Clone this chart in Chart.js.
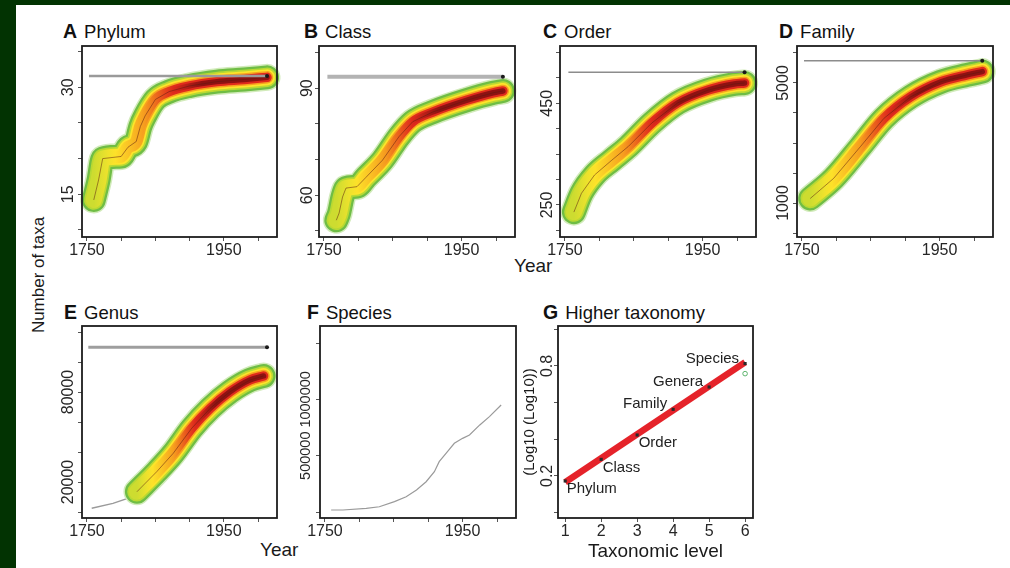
<!DOCTYPE html>
<html><head><meta charset="utf-8">
<script src="https://cdn.jsdelivr.net/npm/chart.js@4.4.1/dist/chart.umd.min.js"></script>
<style>
html,body{margin:0;padding:0;}
body{width:1010px;height:568px;background:#023302;position:relative;overflow:hidden;font-family:"Liberation Sans",Arial,sans-serif;}
#sheet{position:absolute;left:16px;top:5px;right:0;bottom:0;background:#fff;}
.pt{position:absolute;font-size:18.5px;line-height:20px;color:#111;white-space:nowrap;}
.pt b{font-size:19.5px;margin-right:7px;}
.lab{position:absolute;color:#1a1a1a;white-space:nowrap;line-height:20px;}
canvas{position:absolute;}
</style></head><body>
<div id="sheet"></div>
<div class="pt" style="left:63px;top:21px"><b>A</b>Phylum</div>
<div class="pt" style="left:304px;top:21px"><b>B</b>Class</div>
<div class="pt" style="left:543px;top:21px"><b>C</b>Order</div>
<div class="pt" style="left:779px;top:21px"><b>D</b>Family</div>
<div class="pt" style="left:64px;top:302px"><b>E</b>Genus</div>
<div class="pt" style="left:307px;top:302px"><b>F</b>Species</div>
<div class="pt" style="left:543px;top:302px"><b>G</b>Higher taxonomy</div>
<div class="lab" style="left:38.5px;top:275px;font-size:17px;transform:translate(-50%,-50%) rotate(-90deg);">Number of taxa</div>
<div class="lab" style="left:514px;top:256px;font-size:19px;">Year</div>
<div class="lab" style="left:260px;top:540px;font-size:19px;">Year</div>
<script>
// ---------------- data ----------------
const yearTicks = [1750, 1800, 1850, 1900, 1950, 2000];
const yearLabels = [1750, 1950];
const yearRange = [1742.8, 2027.6];

const phylumYears  = [1760, 1767, 1773, 1800, 1810, 1822, 1828, 1835, 1850, 1870, 1900, 1940, 1980, 2013];
const phylumCounts = [14.2, 17, 20, 20.3, 21.6, 22.4, 24.5, 26, 28.3, 29.4, 30.2, 30.8, 31.1, 31.4];
const phylumAsymptote = 31.6;
const phylumAsymptoteSpan = [1753, 2013];
const phylumTicks = [10, 15, 20, 25, 30, 35];
const phylumLabels = [15, 30];
const phylumRange = [9.0, 35.8];

const classYears  = [1768, 1772, 1777, 1782, 1798, 1811, 1835, 1859, 1879, 1908, 1957, 1996, 2010];
const classCounts = [53, 55, 59.5, 62, 62.4, 65, 69.8, 76.4, 80.6, 83.3, 86.6, 88.7, 89.2];
const classAsymptote = 93.2;
const classAsymptoteSpan = [1755, 2010];
const classTicks = [50, 60, 70, 80, 90, 100];
const classLabels = [60, 90];
const classRange = [48.3, 101.8];

const orderYears  = [1763, 1774, 1793, 1818, 1842, 1876, 1914, 1958, 1996, 2011];
const orderCounts = [236, 273, 309, 338, 365, 411, 451, 476, 488, 490];
const orderAsymptote = 511;
const orderAsymptoteSpan = [1755, 2011];
const orderTicks = [200, 250, 300, 350, 400, 450, 500, 550];
const orderLabels = [250, 450];
const orderRange = [187, 562.7];

const familyYears  = [1762, 1796, 1835, 1869, 1908, 1952, 1990, 2012];
const familyCounts = [1150, 1820, 2880, 3820, 4540, 5040, 5270, 5380];
const familyAsymptote = 5740;
const familyAsymptoteSpan = [1753, 2012];
const familyTicks = [0, 1000, 2000, 3000, 4000, 5000, 6000];
const familyLabels = [1000, 5000];
const familyRange = [-133, 6233];

const genusYears  = [1757, 1788, 1817, 1823, 1852, 1876, 1903, 1930, 1959, 1988, 2008];
const genusCounts = [2500, 5800, 10200, 13500, 26900, 39100, 55800, 69100, 80200, 88000, 90700];
const genusBandFrom = 1820;
const genusAsymptote = 109800;
const genusAsymptoteSpan = [1752, 2013];
const genusTicks = [0, 20000, 40000, 60000, 80000, 100000, 120000];
const genusLabels = [20000, 80000];
const genusRange = [-4000, 124000];

const speciesYears  = [1759, 1776, 1810, 1829, 1851, 1868, 1883, 1897, 1909, 1916, 1928, 1938, 1950, 1960, 1975, 1989, 2006];
const speciesCounts = [18000, 18000, 33000, 47000, 92000, 136000, 195000, 269000, 358000, 447000, 536000, 610000, 654000, 684000, 773000, 847000, 950000];
const speciesTicks = [0, 500000, 1000000, 1500000];
const speciesLabels = [500000, 1000000];
const speciesRange = [-53000, 1651000];

const taxLevels = [1, 2, 3, 4, 5, 6];
const taxNames  = ['Phylum', 'Class', 'Order', 'Family', 'Genera', 'Species'];
const taxValues = [0.172, 0.29, 0.423, 0.563, 0.685, 0.813];
const fitLevels = [1, 6];
const fitValues = [0.165, 0.82];
const speciesAltValue = 0.758;
const levelTicks = [1, 2, 3, 4, 5, 6];
const levelRange = [0.8, 6.22];
const logTicks = [0, 0.2, 0.4, 0.6, 0.8, 1.0];
const logLabels = [0.2, 0.8];
const logRange = [-0.03, 1.018];

// ---------------- styling helpers ----------------
const FONT = '"Liberation Sans", Arial, sans-serif';
Chart.defaults.font.family = FONT;
const TICK_SIZE = 16;
const TL = 4;

const heatPalette = ['#d2ebbb', '#6fbd45', '#b9d932', '#fde42a', '#f7a21f', '#e02a1c', '#8e1212'];
const heatWidths  = [27, 24, 19.5, 16, 12.5, 9.5, 5.5];
function heatLevel(t) { return Math.min(6, 2.3 + 6 * t); }

function hexRgb(h) { return [1, 3, 5].map(i => parseInt(h.substr(i, 2), 16)); }
function mix(a, b, f) {
  const A = hexRgb(a), B = hexRgb(b);
  return 'rgb(' + A.map((v, i) => Math.round(v + (B[i] - v) * f)).join(',') + ')';
}

function pts(xs, ys) { return xs.map((x, i) => ({x: x, y: ys[i]})); }

function heatGrad(k) {
  if (k <= 2) return heatPalette[k];
  return c => {
    const ch = c.chart;
    const xs = ch.scales && ch.scales.x;
    if (!ch.chartArea || !xs) return heatPalette[k];
    const d = c.dataset.data;
    const x0 = xs.getPixelForValue(d[0].x), x1 = xs.getPixelForValue(d[d.length - 1].x);
    const g = ch.ctx.createLinearGradient(x0, 0, x1, 0);
    for (let i = 0; i <= 24; i++) {
      const t = i / 24;
      const m = Math.min(k, heatLevel(t));
      const lo = Math.floor(m), hi = Math.min(6, lo + 1);
      g.addColorStop(t, mix(heatPalette[lo], heatPalette[hi], m - lo));
    }
    return g;
  };
}

function heatBand(xs, ys) {
  const out = heatWidths.map((w, k) => ({
    data: pts(xs, ys), borderWidth: w, borderColor: heatGrad(k),
    cubicInterpolationMode: 'monotone', pointRadius: 0, borderCapStyle: 'round',
    borderJoinStyle: 'round', order: 40 - k, clip: false
  }));
  out.push({data: pts(xs, ys), borderWidth: 1, borderColor: 'rgba(90,25,15,0.5)', pointRadius: 0, tension: 0, order: 3, clip: false});
  return out;
}

function asymptote(value, span, width, color) {
  return {
    data: pts(span, [value, value]), borderWidth: width, borderColor: color,
    pointRadius: c => c.dataIndex === 1 ? 2 : 0, pointBackgroundColor: '#1a1a1a',
    pointBorderWidth: 0, order: 1, clip: false
  };
}

function widest(labels, fmt, size) {
  const c = document.createElement('canvas').getContext('2d');
  c.font = size + 'px ' + FONT;
  return Math.max.apply(null, labels.map(l => c.measureText(fmt(l)).width));
}

const framePlugin = {
  id: 'frame',
  afterDatasetsDraw(chart) {
    const {ctx, chartArea: a} = chart;
    ctx.save();
    ctx.strokeStyle = '#1c1c1c';
    ctx.lineWidth = 1.8;
    ctx.strokeRect(a.left, a.top, a.width, a.height);
    ctx.restore();
  }
};

function xAxis(range, ticks, labels, fmt, hx, title) {
  return {
    type: 'linear', position: 'bottom', min: range[0], max: range[1],
    afterBuildTicks: s => { s.ticks = ticks.map(v => ({value: v})); },
    afterFit: s => { s.height = hx; },
    ticks: {autoSkip: false, maxRotation: 0, minRotation: 0, padding: 0, color: '#262626',
            font: {size: TICK_SIZE}, callback: v => labels.includes(v) ? fmt(v) : ''},
    grid: {drawOnChartArea: false, drawTicks: true, tickLength: TL, color: '#555', lineWidth: 1},
    border: {display: false},
    title: title || {display: false}
  };
}

function yAxis(range, ticks, labels, fmt, wy, d, title, size) {
  size = size || TICK_SIZE;
  const w = widest(labels, fmt, size);
  return {
    type: 'linear', position: 'left', min: range[0], max: range[1],
    afterBuildTicks: s => { s.ticks = ticks.map(v => ({value: v})); },
    afterFit: s => { s.width = wy; },
    ticks: {autoSkip: false, minRotation: 90, maxRotation: 90, crossAlign: 'center',
            padding: d - TL - w / 2, color: '#262626', font: {size: size},
            callback: v => labels.includes(v) ? fmt(v) : ''},
    grid: {drawOnChartArea: false, drawTicks: true, tickLength: TL, color: '#555', lineWidth: 1},
    border: {display: false},
    title: title || {display: false}
  };
}

function makeChart(box, scales, datasets, extraPlugins, wy, hx) {
  const padTop = 12, padRight = 12;
  const W = wy + box.w + padRight, H = padTop + box.h + hx;
  const cv = document.createElement('canvas');
  cv.width = W; cv.height = H;
  cv.style.left = (box.x - wy) + 'px';
  cv.style.top = (box.y - padTop) + 'px';
  cv.style.width = W + 'px';
  cv.style.height = H + 'px';
  document.body.appendChild(cv);
  return new Chart(cv, {
    type: 'line',
    data: {datasets: datasets},
    options: {
      responsive: false, animation: false, devicePixelRatio: 1,
      layout: {padding: {top: padTop, right: padRight, left: 0, bottom: 0}},
      plugins: {legend: {display: false}, tooltip: {enabled: false}},
      scales: scales
    },
    plugins: [framePlugin].concat(extraPlugins || [])
  });
}

const str = v => String(v);
const HX = 30, WY = 40;

// A Phylum
makeChart({x: 82, y: 46, w: 195, h: 191}, {
  x: xAxis(yearRange, yearTicks, yearLabels, str, HX),
  y: yAxis(phylumRange, phylumTicks, phylumLabels, str, WY, 13)
}, heatBand(phylumYears, phylumCounts).concat([asymptote(phylumAsymptote, phylumAsymptoteSpan, 2.5, '#9a9a9a')]), [], WY, HX);

// B Class
makeChart({x: 319, y: 46, w: 196, h: 191}, {
  x: xAxis(yearRange, yearTicks, yearLabels, str, HX),
  y: yAxis(classRange, classTicks, classLabels, str, WY, 11.5)
}, heatBand(classYears, classCounts).concat([asymptote(classAsymptote, classAsymptoteSpan, 4, '#b3b3b3')]), [], WY, HX);

// C Order
makeChart({x: 560, y: 46, w: 196, h: 191}, {
  x: xAxis(yearRange, yearTicks, yearLabels, str, HX),
  y: yAxis(orderRange, orderTicks, orderLabels, str, WY, 12.5)
}, heatBand(orderYears, orderCounts).concat([asymptote(orderAsymptote, orderAsymptoteSpan, 1.6, '#8c8c8c')]), [], WY, HX);

// D Family
makeChart({x: 797, y: 46, w: 196, h: 191}, {
  x: xAxis(yearRange, yearTicks, yearLabels, str, HX),
  y: yAxis(familyRange, familyTicks, familyLabels, str, WY, 13)
}, heatBand(familyYears, familyCounts).concat([asymptote(familyAsymptote, familyAsymptoteSpan, 1.6, '#8c8c8c')]), [], WY, HX);

// E Genus
const genusBandIdx = genusYears.map((y, i) => i).filter(i => genusYears[i] >= genusBandFrom);
makeChart({x: 82, y: 326, w: 195, h: 192}, {
  x: xAxis(yearRange, yearTicks, yearLabels, str, HX),
  y: yAxis(genusRange, genusTicks, genusLabels, str, WY, 13)
}, heatBand(genusBandIdx.map(i => genusYears[i]), genusBandIdx.map(i => genusCounts[i]))
  .concat([
    {data: pts(genusYears, genusCounts), borderWidth: 1.3, borderColor: '#9a9a9a', pointRadius: 0, tension: 0, order: 60, clip: false},
    asymptote(genusAsymptote, genusAsymptoteSpan, 3, '#9e9e9e')
  ]), [], WY, HX);

// F Species
makeChart({x: 320, y: 326, w: 196, h: 192}, {
  x: xAxis(yearRange, yearTicks, yearLabels, str, HX),
  y: yAxis(speciesRange, speciesTicks, speciesLabels, str, WY, 14, null, 14.5)
}, [{data: pts(speciesYears, speciesCounts), borderWidth: 1.2, borderColor: '#9a9a9a', pointRadius: 0, tension: 0, clip: false}], [], WY, HX);

// G Higher taxonomy
const labelPlugin = {
  id: 'taxLabels',
  afterDatasetsDraw(chart) {
    const {ctx, scales: {x, y}} = chart;
    ctx.save();
    ctx.font = '15px ' + FONT;
    ctx.fillStyle = '#222';
    ctx.textBaseline = 'middle';
    taxLevels.forEach((lv, i) => {
      const px = x.getPixelForValue(lv), py = y.getPixelForValue(taxValues[i]);
      if (i >= 3) { ctx.textAlign = 'right'; ctx.fillText(taxNames[i], px - 6, py - 5); }
      else { ctx.textAlign = 'left'; ctx.fillText(taxNames[i], px + 1.5, py + 8); }
    });
    ctx.restore();
  }
};
const WYG = 45, HXG = 45;
makeChart({x: 558, y: 326, w: 195, h: 192}, {
  x: xAxis(levelRange, levelTicks, levelTicks, str, HXG,
    {display: true, text: 'Taxonomic level', color: '#1a1a1a', font: {size: 19}, padding: {top: 0, bottom: 0}}),
  y: yAxis(logRange, logTicks, logLabels, v => v.toFixed(1), WYG, 10.5,
    {display: true, text: '(Log10 (Log10))', color: '#1a1a1a', font: {size: 15}, padding: {top: 8, bottom: 0}})
}, [
  {data: pts(fitLevels, fitValues), borderWidth: 6.5, borderColor: '#e5232a', pointRadius: 0, order: 5, clip: false},
  {data: pts(taxLevels, taxValues), showLine: false, pointRadius: 2.2, pointStyle: 'rect',
   pointBackgroundColor: '#2a2a2a', pointBorderWidth: 0, order: 2, clip: false},
  {data: pts([6], [speciesAltValue]), showLine: false, pointRadius: 2.3, pointBackgroundColor: 'rgba(0,0,0,0)',
   pointBorderColor: '#5bb36b', pointBorderWidth: 1, order: 1, clip: false}
], [labelPlugin], WYG, HXG);
</script>
</body></html>
